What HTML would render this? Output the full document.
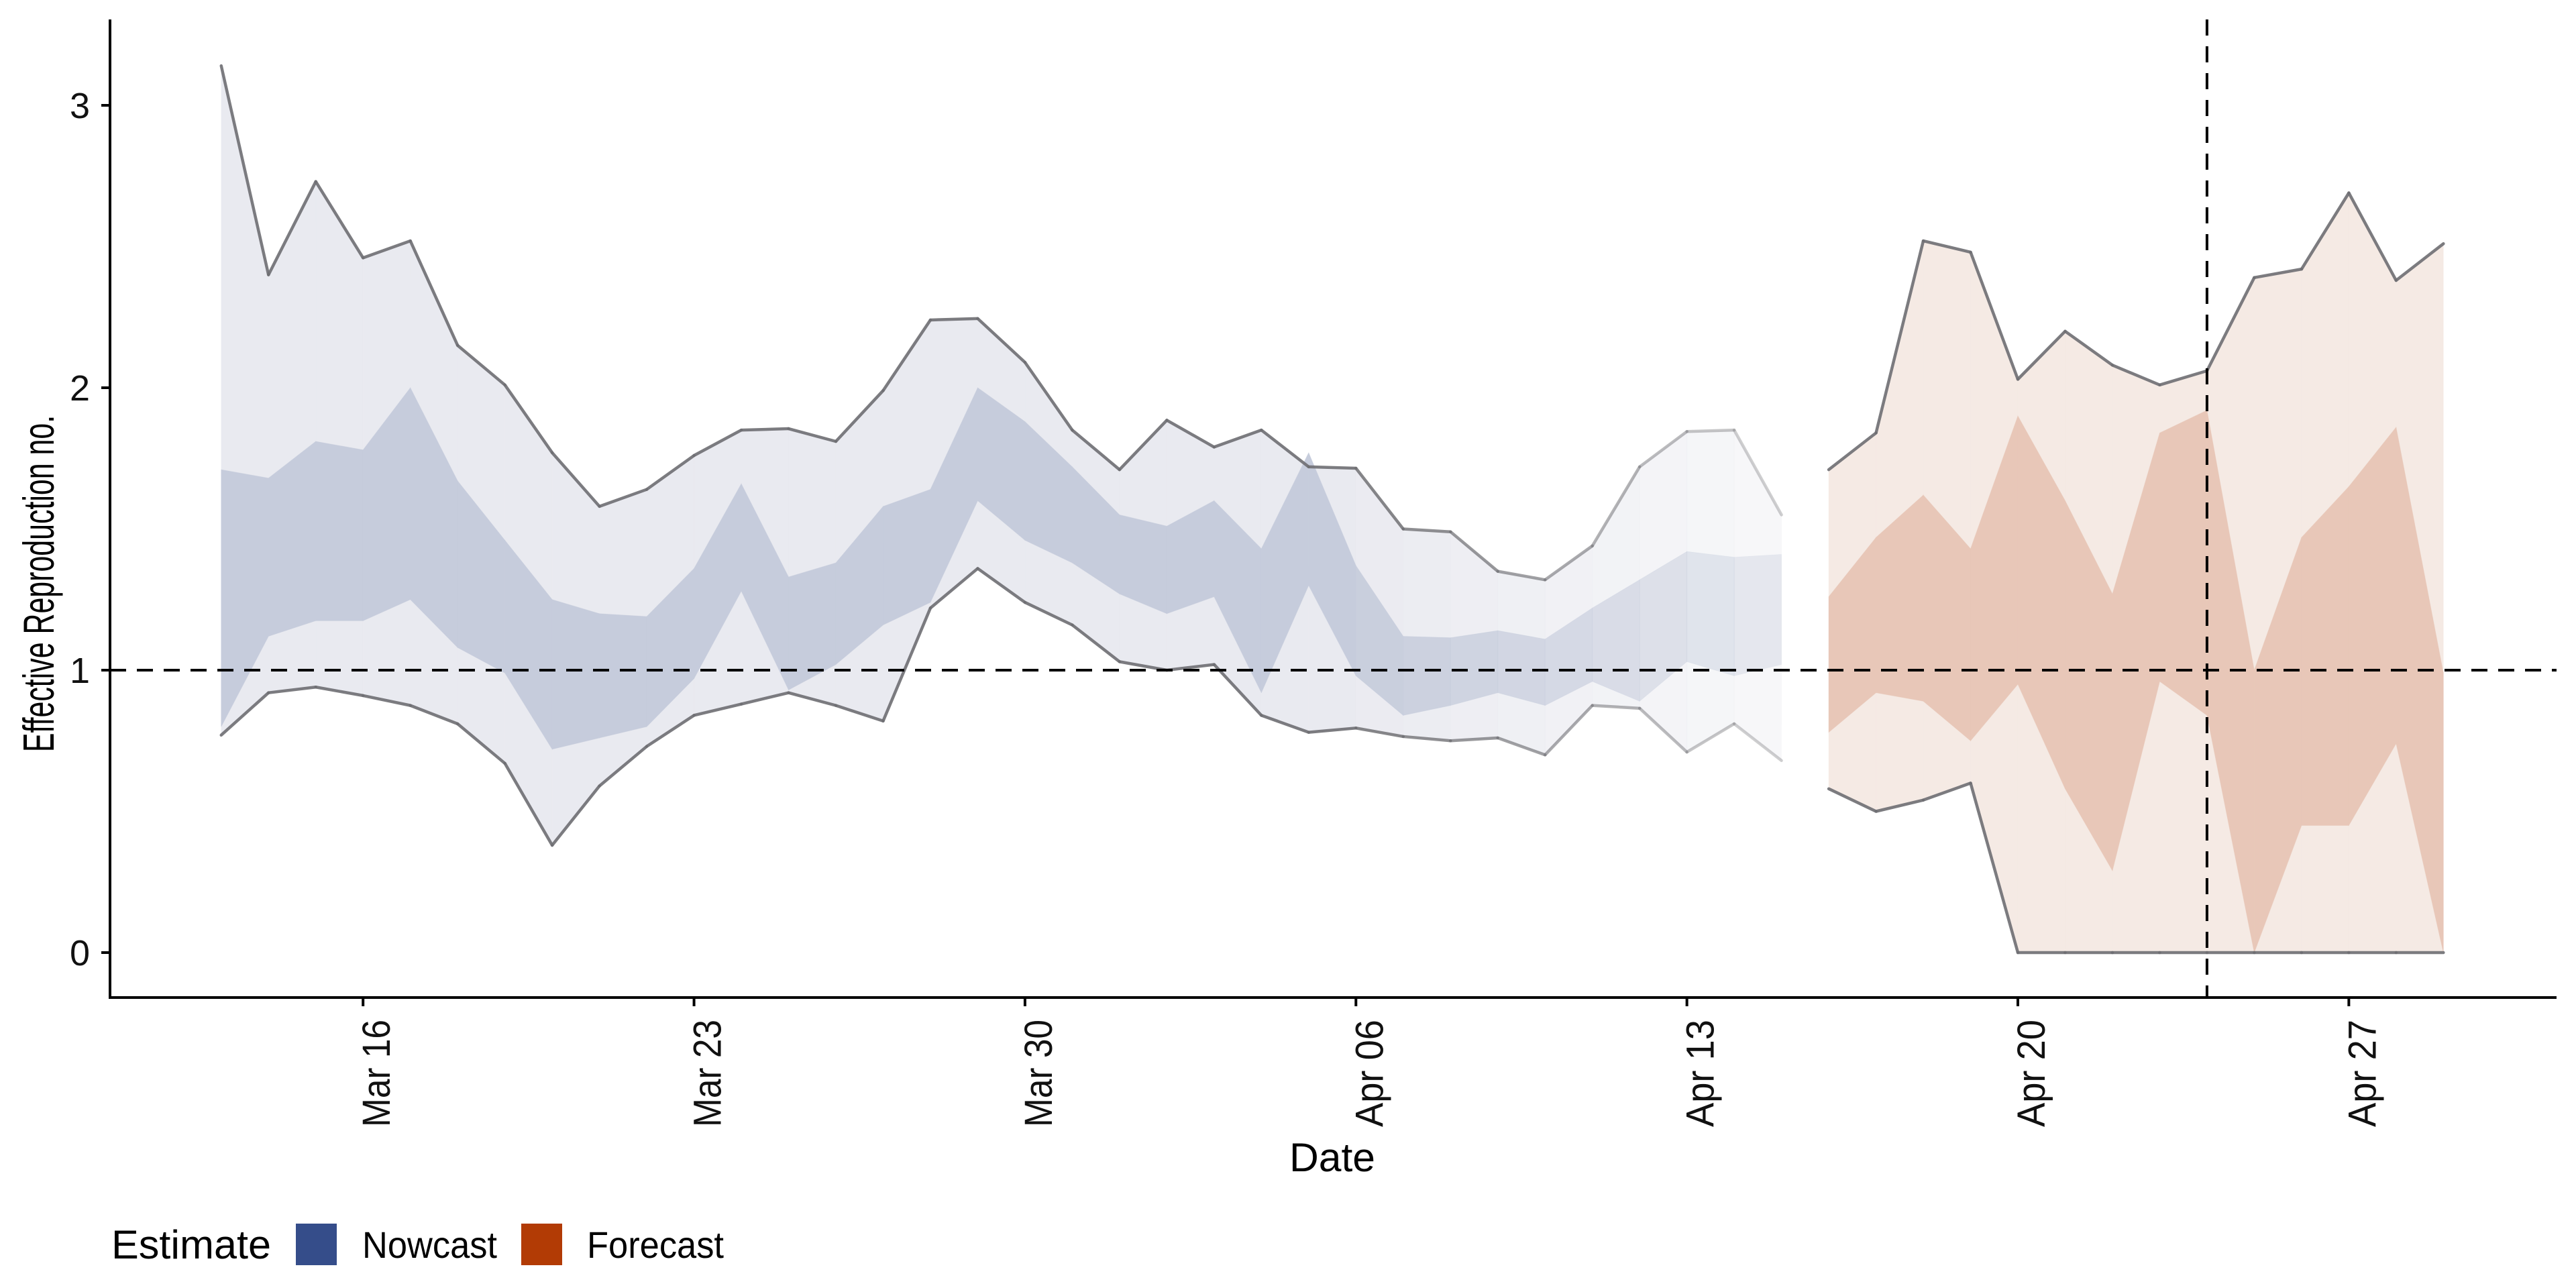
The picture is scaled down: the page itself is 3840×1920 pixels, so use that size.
<!DOCTYPE html>
<html><head><meta charset="utf-8"><style>
html,body{margin:0;padding:0;background:#fff;}
svg{display:block;font-family:"Liberation Sans",sans-serif;}
</style></head><body>
<svg id="chart" width="3840" height="1920" viewBox="0 0 3840 1920" xmlns="http://www.w3.org/2000/svg">
<g id="marks"></g>
<g id="axes"></g>
<text transform="translate(80,870) rotate(-90) scale(0.66,1)" text-anchor="middle" font-size="65">Effective Reproduction no.</text>
<text x="1986" y="1746" text-anchor="middle" font-size="60" textLength="128" lengthAdjust="spacingAndGlyphs">Date</text>
<g>
<text x="166" y="1876" font-size="60" textLength="238" lengthAdjust="spacingAndGlyphs">Estimate</text>
<rect x="441" y="1824" width="61" height="62" fill="#354d8a"/>
<text x="540" y="1875" font-size="56" textLength="201" lengthAdjust="spacingAndGlyphs">Nowcast</text>
<rect x="777" y="1824" width="61" height="62" fill="#b23b05"/>
<text x="875" y="1875" font-size="56" textLength="204" lengthAdjust="spacingAndGlyphs">Forecast</text>
</g>
</svg>
<script>
// Nowcast: Mar 13 .. Apr 15 (day index 0..33)
const nowUpper90=[3.14,2.40,2.73,2.46,2.52,2.15,2.01,1.77,1.58,1.64,1.76,1.85,1.855,1.81,1.99,2.24,2.245,2.09,1.85,1.71,1.885,1.79,1.85,1.72,1.715,1.50,1.49,1.35,1.32,1.44,1.72,1.845,1.85,1.55];
const nowLower90=[0.77,0.92,0.94,0.91,0.875,0.81,0.67,0.38,0.59,0.73,0.84,0.88,0.92,0.875,0.82,1.22,1.36,1.24,1.16,1.03,1.0,1.02,0.84,0.78,0.795,0.765,0.75,0.76,0.70,0.875,0.865,0.71,0.81,0.68];
const nowUpper50=[1.71,1.68,1.81,1.78,2.00,1.67,1.46,1.25,1.20,1.19,1.36,1.66,1.33,1.38,1.58,1.64,2.00,1.88,1.72,1.55,1.51,1.60,1.43,1.77,1.37,1.12,1.115,1.14,1.11,1.22,1.32,1.42,1.40,1.41];
const nowLower50=[0.80,1.12,1.175,1.175,1.25,1.08,0.99,0.72,0.76,0.80,0.97,1.28,0.93,1.02,1.16,1.24,1.60,1.46,1.38,1.27,1.20,1.26,0.92,1.30,0.98,0.84,0.875,0.92,0.875,0.96,0.89,1.03,0.98,1.02];
// Forecast: Apr 16 .. Apr 29 (day index 34..47)
const fcUpper90=[1.71,1.84,2.52,2.48,2.03,2.20,2.08,2.01,2.06,2.39,2.42,2.69,2.38,2.51];
const fcLower90=[0.58,0.50,0.54,0.60,0,0,0,0,0,0,0,0,0,0];
const fcUpper50=[1.26,1.47,1.62,1.43,1.90,1.60,1.27,1.84,1.92,1.0,1.47,1.65,1.86,0.99];
const fcLower50=[0.78,0.92,0.89,0.75,0.95,0.58,0.29,0.96,0.84,0.0,0.45,0.45,0.74,0.0];
const xTickLabels=["Mar 16","Mar 23","Mar 30","Apr 06","Apr 13","Apr 20","Apr 27"];
const xTickDays=[3,10,17,24,31,38,45];
const yTicks=[0,1,2,3];
const todayDay=42;
const refLine=1;

const NS="http://www.w3.org/2000/svg";
const X0=164,X1=3811,Y0=29,Y1=1487;
function xs(d){return 541.2+(d-3)*70.48;}
function ys(v){return 1420-v*421;}
function mk(tag,attrs,parent){const e=document.createElementNS(NS,tag);for(const k in attrs)e.setAttribute(k,attrs[k]);parent.appendChild(e);return e;}
const marks=document.getElementById('marks'),axes=document.getElementById('axes');
const nowFade=nowUpper90.map((_,i)=>i<24?1:Math.max(0.3,1-(i-23)*0.07));
function band(up,lo,off,color,alphas,name){
  for(let i=0;i<up.length-1;i++){
    const pts=[[xs(off+i),ys(up[i])],[xs(off+i+1),ys(up[i+1])],[xs(off+i+1),ys(lo[i+1])],[xs(off+i),ys(lo[i])]];
    const p=mk('polygon',{points:pts.map(p=>p.join(',')).join(' '),fill:color,'fill-opacity':alphas?alphas[i]:1,stroke:color,'stroke-opacity':alphas?alphas[i]*0.5:0.5,'stroke-width':0.8},marks);
    
    
  }
}
function line(vals,off,alphas,name){
  for(let i=0;i<vals.length-1;i++){
    const l=mk('line',{x1:xs(off+i),y1:ys(vals[i]),x2:xs(off+i+1),y2:ys(vals[i+1]),stroke:'#6e6e72','stroke-width':4.5,'stroke-opacity':(alphas?alphas[i]:1)*0.9,'stroke-linecap':'round'},marks);
    
    
  }
}
band(nowUpper90,nowLower90,0,'#e9eaf0',nowFade,'nowcast-90-band');
band(nowUpper50,nowLower50,0,'#c6ccdc',nowFade,'nowcast-50-band');
line(nowUpper90,0,nowFade,'nowcast-upper-line');
line(nowLower90,0,nowFade,'nowcast-lower-line');
band(fcUpper90,fcLower90,34,'#f5eae4',null,'forecast-90-band');
band(fcUpper50,fcLower50,34,'#e8c7b8',null,'forecast-50-band');
line(fcUpper90,34,null,'forecast-upper-line');
line(fcLower90,34,null,'forecast-lower-line');
let h=mk('line',{x1:X0,x2:X1,y1:ys(refLine),y2:ys(refLine),stroke:'#000','stroke-width':4,'stroke-dasharray':'24,16'},marks);


let v=mk('line',{x1:xs(todayDay),x2:xs(todayDay),y1:Y0,y2:Y1,stroke:'#000','stroke-width':4,'stroke-dasharray':'24,16'},marks);


let ax=mk('line',{x1:X0,x2:X0,y1:Y0,y2:Y1+2,stroke:'#000','stroke-width':4},axes);


ax=mk('line',{x1:X0-2,x2:X1,y1:Y1,y2:Y1,stroke:'#000','stroke-width':4},axes);


yTicks.forEach(t=>{
  const tk=mk('line',{x1:X0-13,x2:X0,y1:ys(t),y2:ys(t),stroke:'#000','stroke-width':4},axes);
  
  
  const tx=mk('text',{x:X0-30,y:ys(t)+19,'text-anchor':'end','font-size':54,fill:'#111'},axes);
  tx.textContent=t;
  
  
});
xTickDays.forEach((d,i)=>{
  const tk=mk('line',{x1:xs(d),x2:xs(d),y1:Y1,y2:Y1+13,stroke:'#000','stroke-width':4},axes);
  
  
  const tx=mk('text',{transform:`translate(${xs(d)+40},${Y1+33}) rotate(-90)`,'text-anchor':'end','font-size':58,fill:'#111',textLength:160,lengthAdjust:'spacingAndGlyphs'},axes);
  tx.textContent=xTickLabels[i];
  
  
});
</script>
</body></html>
